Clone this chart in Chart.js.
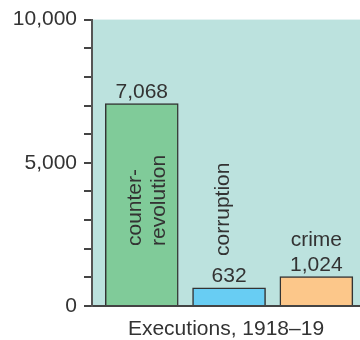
<!DOCTYPE html>
<html>
<head>
<meta charset="utf-8">
<script src="https://cdn.jsdelivr.net/npm/chart.js@4/dist/chart.umd.min.js"></script>
<style>
  html, body { margin: 0; padding: 0; background: #fff; }
  #wrap { width: 360px; height: 340px; }
</style>
</head>
<body>
<div id="wrap"><canvas id="chart"></canvas></div>
<script>
// Executions by charge, 1918–19
const categories = ["counter-revolution", "corruption", "crime"];
const executions = [7068, 632, 1024];
const valueLabels = ["7,068", "632", "1,024"];
const yTickLabels = { 0: "0", 5000: "5,000", 10000: "10,000" };
const barColors = ["#80cb99", "#68cdf3", "#fcc78a"];

const FONT = '"Liberation Sans", Arial, sans-serif';
const SIZE = 21;
const INK = "#333";

// teal fill behind the bars
const plotBackground = {
  id: "plotBackground",
  beforeDraw(chart) {
    const { ctx, chartArea: a } = chart;
    ctx.save();
    ctx.fillStyle = "#bce2de";
    ctx.fillRect(a.left, a.top, a.right - a.left, a.bottom - a.top);
    ctx.restore();
  }
};

// numbers over the bars and the category names
const barText = {
  id: "barText",
  afterDatasetsDraw(chart) {
    const { ctx, chartArea } = chart;
    const bars = chart.getDatasetMeta(0).data;
    ctx.save();
    ctx.fillStyle = INK;
    ctx.font = SIZE + "px " + FONT;
    ctx.textAlign = "center";
    ctx.textBaseline = "alphabetic";
    bars.forEach((bar, i) => ctx.fillText(valueLabels[i], bar.x, bar.y - 6));

    // "crime" sits flat above its number
    ctx.fillText(categories[2], bars[2].x, bars[2].y - 31);

    // rotated names, reading bottom to top
    const vertical = (lines, x, y) => {
      ctx.save();
      ctx.translate(x, y);
      ctx.rotate(-Math.PI / 2);
      ctx.textAlign = "left";
      lines.forEach((t, k) => ctx.fillText(t, 0, k * 24));
      ctx.restore();
    };
    vertical(["counter-", "revolution"], bars[0].x - 1, chartArea.bottom - 60);
    vertical([categories[1]], bars[1].x, bars[1].y - 32);
    ctx.restore();
  }
};

new Chart(document.getElementById("chart"), {
  type: "bar",
  data: {
    datasets: [{
      data: executions.map((v, i) => ({ x: i, y: v })),
      backgroundColor: barColors,
      borderColor: "#333",
      borderWidth: 1.5,
      barThickness: 73
    }]
  },
  options: {
    responsive: true,
    maintainAspectRatio: false,
    animation: false,
    layout: { padding: { top: 19, right: 0, bottom: 0, left: 0 } },
    plugins: { legend: { display: false }, tooltip: { enabled: false } },
    scales: {
      x: {
        type: "linear",
        offset: false,
        min: -0.57,
        max: 2.5,
        grid: { display: false },
        ticks: { display: false },
        border: { display: true, color: "#444", width: 2 },
        title: {
          display: true,
          text: "Executions, 1918–19",
          color: INK,
          font: { family: FONT, size: SIZE, lineHeight: 1 },
          padding: 0
        },
        afterFit(scale) { scale.height = 34; }
      },
      y: {
        min: 0,
        max: 10000,
        ticks: {
          stepSize: 1000,
          color: INK,
          padding: 7,
          font: { family: FONT, size: SIZE },
          callback: v => yTickLabels[v] ?? ""
        },
        grid: { drawOnChartArea: false, tickLength: 8, tickColor: "#444", lineWidth: 2 },
        border: { color: "#555", width: 2 },
        afterFit(scale) { scale.width = 92; }
      }
    }
  },
  plugins: [plotBackground, barText]
});
</script>
</body>
</html>
